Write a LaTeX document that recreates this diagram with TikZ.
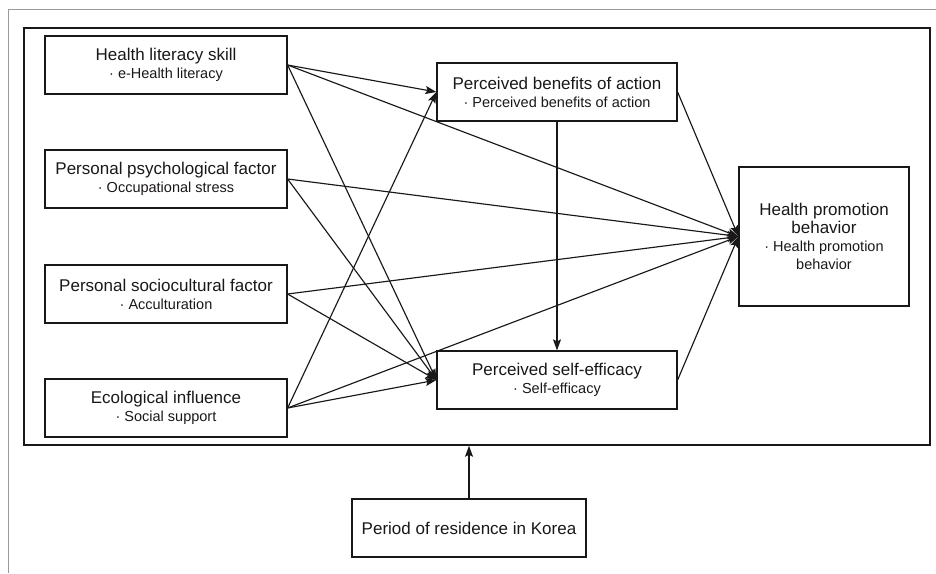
\documentclass[tikz,border=0pt]{standalone}
\usepackage{fontspec}
\setmainfont{Liberation Sans}
\usetikzlibrary{arrows.meta}
\definecolor{ink}{HTML}{1A1718}
\definecolor{framegray}{HTML}{9A9A9A}
\newcommand{\subf}{\fontsize{14.5}{15.5}\selectfont}
\newcommand{\subff}{\fontsize{14.5}{17.5}\selectfont}
\begin{document}
\begin{tikzpicture}[x=1pt,y=-1pt,
  every node/.style={text=ink},
  box/.style={draw=ink, line width=1.2pt, inner sep=0pt, align=center,
    font=\fontsize{17}{18}\selectfont},
  leftbox/.style={box, minimum width=242pt, minimum height=58pt},
  midbox/.style={box, minimum width=240pt, minimum height=58pt},
  conn/.style={draw=ink, line width=1.15pt, -{Stealth[length=11pt,width=8pt,inset=2pt]}}]
\useasboundingbox (0,0) rectangle (936,573);
% outer gray frame
\draw[framegray, line width=1pt] (8,573) -- (8,9) -- (936,9);
% inner frame
\node[draw=ink, line width=1.5pt, minimum width=906pt, minimum height=417pt, inner sep=0pt] (frame) at (477,236.5) {};
% left column
\node[leftbox] (hl) at (166,65) {Health literacy skill\\\subf · e-Health literacy};
\node[leftbox] (pp) at (166,179) {Personal psychological factor\\\subf · Occupational stress};
\node[leftbox] (ps) at (166,294) {Personal sociocultural factor\\\subf · Acculturation};
\node[leftbox] (ei) at (166,408) {Ecological influence\\\subf · Social support};
% middle
\node[midbox] (pb) at (557,92) {Perceived benefits of action\\\subf · Perceived benefits of action};
\node[midbox] (se) at (557,380) {Perceived self-efficacy\\\subf · Self-efficacy};
% right
\node[box, minimum width=170pt, minimum height=139pt] (hp) at (824,236.5) {Health promotion\\behavior\\\subff · Health promotion\\\subff behavior};
% bottom
\node[box, minimum width=234pt, minimum height=58pt] (pr) at (469,528) {Period of residence in Korea};
% connectors
\draw[conn] (hl.east) -- (pb.west);
\draw[conn] (hl.east) -- (hp.west);
\draw[conn] (hl.east) -- (se.west);
\draw[conn] (pp.east) -- (hp.west);
\draw[conn] (pp.east) -- (se.west);
\draw[conn] (ps.east) -- (hp.west);
\draw[conn] (ps.east) -- (se.west);
\draw[conn] (ei.east) -- (pb.west);
\draw[conn] (ei.east) -- (hp.west);
\draw[conn] (ei.east) -- (se.west);
\draw[conn] (pb.south) -- (se.north);
\draw[conn] (pb.east) -- (hp.west);
\draw[conn] (se.east) -- (hp.west);
\draw[conn] (pr.north) -- (pr.north |- frame.south);
\end{tikzpicture}
\end{document}
